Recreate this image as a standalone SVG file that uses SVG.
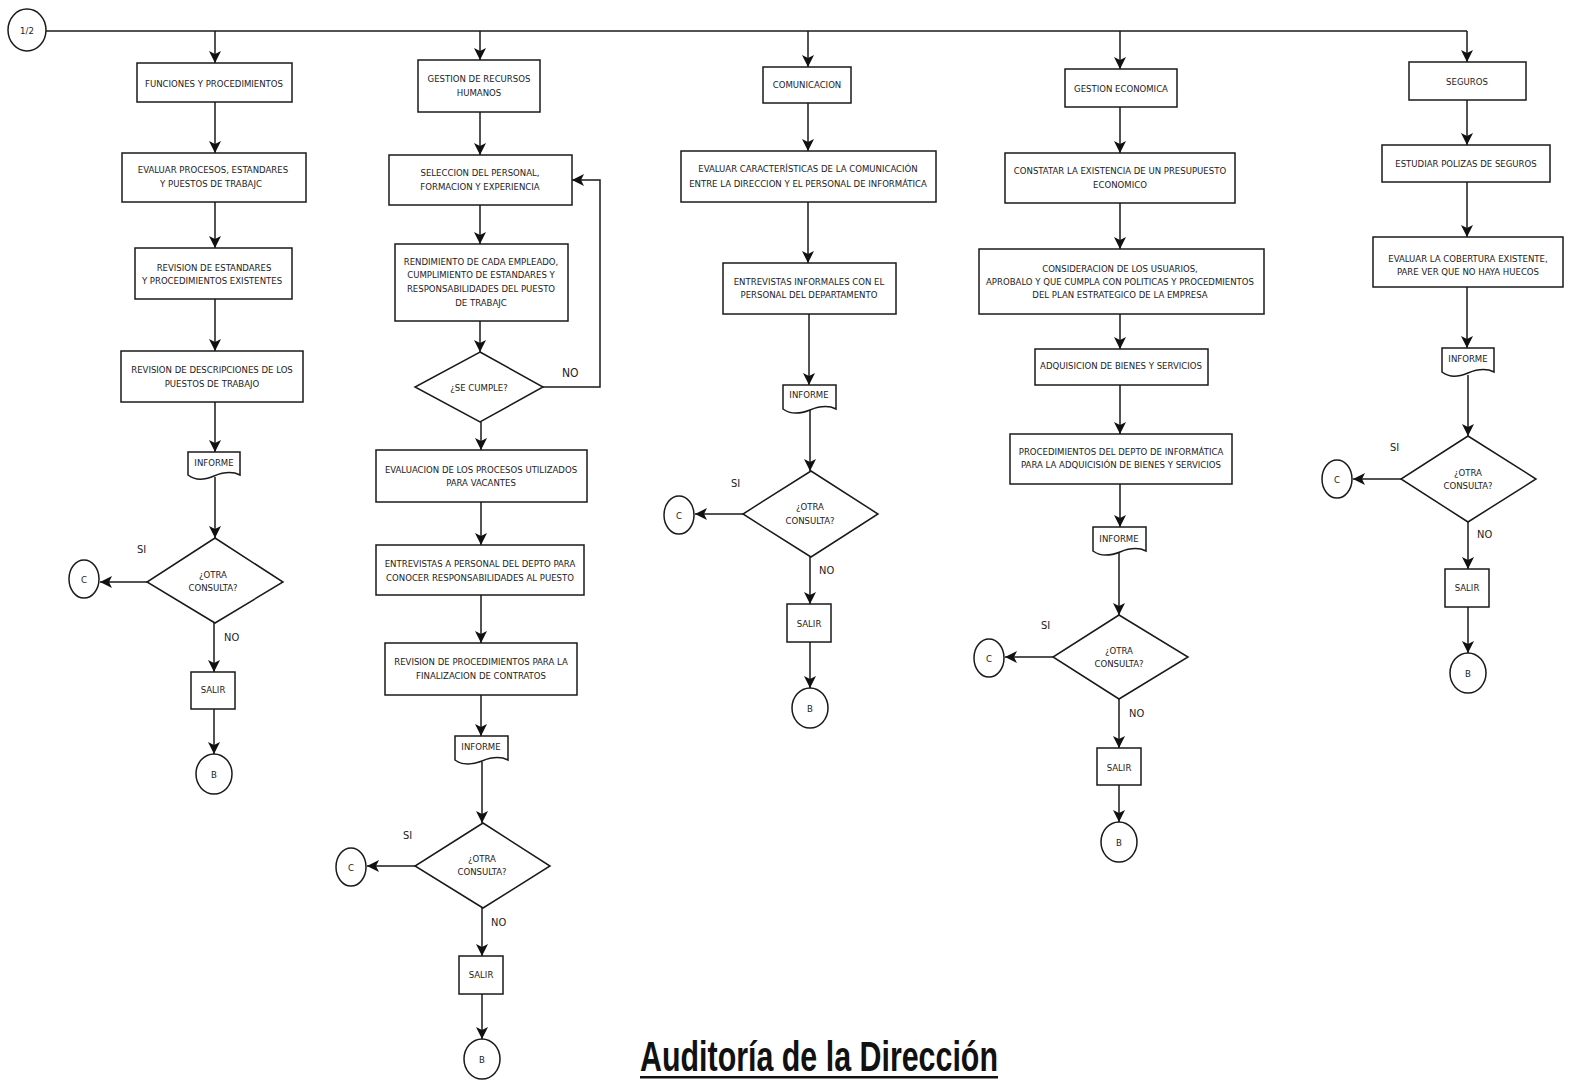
<svg xmlns="http://www.w3.org/2000/svg" width="1572" height="1085" viewBox="0 0 1572 1085">
<style>
.n{fill:#fff;stroke:#1a1a1a;stroke-width:1.5}
.c{fill:none;stroke:#1a1a1a;stroke-width:1.5}
.t{font-family:"Liberation Sans Narrow","DejaVu Sans Condensed",sans-serif;font-size:9.5px;text-anchor:middle;fill:#222}
.l{font-family:"Liberation Sans Narrow","DejaVu Sans Condensed",sans-serif;font-size:11px;fill:#222}
.title{font-family:"Liberation Sans",sans-serif;font-size:42px;font-weight:bold;fill:#111}
</style>
<defs>
<marker id="ah" markerUnits="userSpaceOnUse" markerWidth="14" markerHeight="12" refX="12" refY="6" orient="auto">
<path d="M0,0 L12,6 L0,12 L3,6 z" fill="#111"/>
</marker>
</defs>
<rect width="1572" height="1085" fill="#fff"/>

<g id="connectors">
<path class="c" d="M46,31 H1467"/>
<!-- col1 -->
<path class="c" marker-end="url(#ah)" d="M215,31 V63"/>
<path class="c" marker-end="url(#ah)" d="M215,102 V153"/>
<path class="c" marker-end="url(#ah)" d="M215,202 V248"/>
<path class="c" marker-end="url(#ah)" d="M215,299 V351"/>
<path class="c" marker-end="url(#ah)" d="M215,402 V452"/>
<path class="c" marker-end="url(#ah)" d="M215,477 V538"/>
<path class="c" marker-end="url(#ah)" d="M147,582 H100"/>
<path class="c" marker-end="url(#ah)" d="M214,623 V672"/>
<path class="c" marker-end="url(#ah)" d="M214,709 V754"/>
<!-- col2 -->
<path class="c" marker-end="url(#ah)" d="M480,31 V60"/>
<path class="c" marker-end="url(#ah)" d="M480,112 V155"/>
<path class="c" marker-end="url(#ah)" d="M480,205 V244"/>
<path class="c" marker-end="url(#ah)" d="M480,321 V352"/>
<path class="c" marker-end="url(#ah)" d="M543,387 H600 V180 H572"/>
<path class="c" marker-end="url(#ah)" d="M481,422 V450"/>
<path class="c" marker-end="url(#ah)" d="M481,502 V545"/>
<path class="c" marker-end="url(#ah)" d="M481,595 V643"/>
<path class="c" marker-end="url(#ah)" d="M481,695 V736"/>
<path class="c" marker-end="url(#ah)" d="M482,762 V823"/>
<path class="c" marker-end="url(#ah)" d="M415,866 H367"/>
<path class="c" marker-end="url(#ah)" d="M482,908 V956"/>
<path class="c" marker-end="url(#ah)" d="M482,994 V1039"/>
<!-- col3 -->
<path class="c" marker-end="url(#ah)" d="M808,31 V67"/>
<path class="c" marker-end="url(#ah)" d="M808,103 V151"/>
<path class="c" marker-end="url(#ah)" d="M808,202 V263"/>
<path class="c" marker-end="url(#ah)" d="M809,314 V385"/>
<path class="c" marker-end="url(#ah)" d="M810,410 V471"/>
<path class="c" marker-end="url(#ah)" d="M743,514 H695"/>
<path class="c" marker-end="url(#ah)" d="M810,557 V604"/>
<path class="c" marker-end="url(#ah)" d="M810,642 V688"/>
<!-- col4 -->
<path class="c" marker-end="url(#ah)" d="M1120,31 V69"/>
<path class="c" marker-end="url(#ah)" d="M1120,107 V153"/>
<path class="c" marker-end="url(#ah)" d="M1120,203 V249"/>
<path class="c" marker-end="url(#ah)" d="M1120,314 V349"/>
<path class="c" marker-end="url(#ah)" d="M1120,385 V434"/>
<path class="c" marker-end="url(#ah)" d="M1120,484 V527"/>
<path class="c" marker-end="url(#ah)" d="M1119,553 V615"/>
<path class="c" marker-end="url(#ah)" d="M1053,657 H1005"/>
<path class="c" marker-end="url(#ah)" d="M1119,699 V748"/>
<path class="c" marker-end="url(#ah)" d="M1119,785 V822"/>
<!-- col5 -->
<path class="c" marker-end="url(#ah)" d="M1467,31 V62"/>
<path class="c" marker-end="url(#ah)" d="M1467,100 V145"/>
<path class="c" marker-end="url(#ah)" d="M1467,182 V237"/>
<path class="c" marker-end="url(#ah)" d="M1467,287 V348"/>
<path class="c" marker-end="url(#ah)" d="M1468,375 V436"/>
<path class="c" marker-end="url(#ah)" d="M1401,479 H1353"/>
<path class="c" marker-end="url(#ah)" d="M1468,522 V569"/>
<path class="c" marker-end="url(#ah)" d="M1468,607 V653"/>
</g>

<g id="start"><ellipse class="n" cx="27" cy="30" rx="19" ry="21"/><text class="t" x="27" y="34">1/2</text></g>

<!-- Column 1 -->
<g id="c1-n1"><rect class="n" x="137" y="63" width="155" height="39"/><text class="t" x="214" y="87">FUNCIONES Y PROCEDIMIENTOS</text></g>
<g id="c1-n2"><rect class="n" x="122" y="153" width="184" height="49"/><text class="t" x="213" y="173">EVALUAR PROCESOS, ESTANDARES</text><text class="t" x="211" y="187">Y PUESTOS DE TRABAJC</text></g>
<g id="c1-n3"><rect class="n" x="135" y="248" width="157" height="51"/><text class="t" x="214" y="271">REVISION DE ESTANDARES</text><text class="t" x="212" y="284">Y PROCEDIMIENTOS EXISTENTES</text></g>
<g id="c1-n4"><rect class="n" x="121" y="351" width="182" height="51"/><text class="t" x="212" y="373">REVISION DE DESCRIPCIONES DE LOS</text><text class="t" x="212" y="387">PUESTOS DE TRABAJO</text></g>
<g id="c1-inf"><path class="n" d="M188,452 H240 V475 C232,471 224,472 214,476 S196,481 188,475 Z"/><text class="t" x="214" y="466">INFORME</text></g>
<g id="c1-dec"><path class="n" d="M215,538 L283,582 L215,623 L147,582 Z"/><text class="t" x="213" y="578">¿OTRA</text><text class="t" x="213" y="591">CONSULTA?</text></g>
<text class="l" x="137" y="553">SI</text>
<text class="l" x="224" y="641">NO</text>
<g id="c1-c"><ellipse class="n" cx="84" cy="579" rx="15" ry="19"/><text class="t" x="84" y="583">C</text></g>
<g id="c1-salir"><rect class="n" x="191" y="672" width="44" height="37"/><text class="t" x="213" y="693">SALIR</text></g>
<g id="c1-b"><ellipse class="n" cx="214" cy="774" rx="18" ry="20"/><text class="t" x="214" y="778">B</text></g>

<!-- Column 2 -->
<g id="c2-n1"><rect class="n" x="418" y="60" width="122" height="52"/><text class="t" x="479" y="82">GESTION DE RECURSOS</text><text class="t" x="479" y="96">HUMANOS</text></g>
<g id="c2-n2"><rect class="n" x="389" y="155" width="183" height="50"/><text class="t" x="480" y="176">SELECCION DEL PERSONAL,</text><text class="t" x="480" y="190">FORMACION Y EXPERIENCIA</text></g>
<g id="c2-n3"><rect class="n" x="395" y="244" width="173" height="77"/><text class="t" x="481" y="265">RENDIMIENTO DE CADA EMPLEADO,</text><text class="t" x="481" y="278">CUMPLIMIENTO DE ESTANDARES Y</text><text class="t" x="481" y="292">RESPONSABILIDADES DEL PUESTO</text><text class="t" x="481" y="306">DE TRABAJC</text></g>
<g id="c2-dec1"><path class="n" d="M480,352 L543,387 L480,422 L415,387 Z"/><text class="t" x="479" y="391">¿SE CUMPLE?</text></g>
<text class="l" x="562" y="377" style="font-size:12px">NO</text>
<g id="c2-n4"><rect class="n" x="376" y="450" width="211" height="52"/><text class="t" x="481" y="473">EVALUACION DE LOS PROCESOS UTILIZADOS</text><text class="t" x="481" y="486">PARA VACANTES</text></g>
<g id="c2-n5"><rect class="n" x="376" y="545" width="208" height="50"/><text class="t" x="480" y="567">ENTREVISTAS A PERSONAL DEL DEPTO PARA</text><text class="t" x="480" y="581">CONOCER RESPONSABILIDADES AL PUESTO</text></g>
<g id="c2-n6"><rect class="n" x="385" y="643" width="192" height="52"/><text class="t" x="481" y="665">REVISION DE PROCEDIMIENTOS PARA LA</text><text class="t" x="481" y="679">FINALIZACION DE CONTRATOS</text></g>
<g id="c2-inf"><path class="n" d="M455,736 H508 V760 C500,756 492,757 482,761 S463,766 455,760 Z"/><text class="t" x="481" y="750">INFORME</text></g>
<g id="c2-dec2"><path class="n" d="M483,823 L550,866 L483,908 L415,866 Z"/><text class="t" x="482" y="862">¿OTRA</text><text class="t" x="482" y="875">CONSULTA?</text></g>
<text class="l" x="403" y="839">SI</text>
<text class="l" x="491" y="926">NO</text>
<g id="c2-c"><ellipse class="n" cx="351" cy="867" rx="15" ry="19"/><text class="t" x="351" y="871">C</text></g>
<g id="c2-salir"><rect class="n" x="459" y="956" width="44" height="38"/><text class="t" x="481" y="978">SALIR</text></g>
<g id="c2-b"><ellipse class="n" cx="482" cy="1059" rx="18" ry="20"/><text class="t" x="482" y="1063">B</text></g>

<!-- Column 3 -->
<g id="c3-n1"><rect class="n" x="763" y="67" width="88" height="36"/><text class="t" x="807" y="88">COMUNICACION</text></g>
<g id="c3-n2"><rect class="n" x="681" y="151" width="255" height="51"/><text class="t" x="808" y="172">EVALUAR CARACTERÍSTICAS DE LA COMUNICACIÓN</text><text class="t" x="808" y="187">ENTRE LA DIRECCION Y EL PERSONAL DE INFORMÁTICA</text></g>
<g id="c3-n3"><rect class="n" x="723" y="263" width="173" height="51"/><text class="t" x="809" y="285">ENTREVISTAS INFORMALES CON EL</text><text class="t" x="809" y="298">PERSONAL DEL DEPARTAMENTO</text></g>
<g id="c3-inf"><path class="n" d="M783,385 H836 V409 C828,405 820,406 810,410 S791,415 783,409 Z"/><text class="t" x="809" y="398">INFORME</text></g>
<g id="c3-dec"><path class="n" d="M811,471 L878,514 L811,557 L743,514 Z"/><text class="t" x="810" y="510">¿OTRA</text><text class="t" x="810" y="524">CONSULTA?</text></g>
<text class="l" x="731" y="487">SI</text>
<text class="l" x="819" y="574">NO</text>
<g id="c3-c"><ellipse class="n" cx="679" cy="515" rx="15" ry="19"/><text class="t" x="679" y="519">C</text></g>
<g id="c3-salir"><rect class="n" x="787" y="604" width="44" height="38"/><text class="t" x="809" y="627">SALIR</text></g>
<g id="c3-b"><ellipse class="n" cx="810" cy="708" rx="18" ry="20"/><text class="t" x="810" y="712">B</text></g>

<!-- Column 4 -->
<g id="c4-n1"><rect class="n" x="1065" y="69" width="112" height="38"/><text class="t" x="1121" y="92">GESTION ECONOMICA</text></g>
<g id="c4-n2"><rect class="n" x="1005" y="153" width="230" height="50"/><text class="t" x="1120" y="174">CONSTATAR LA EXISTENCIA DE UN PRESUPUESTO</text><text class="t" x="1120" y="188">ECONOMICO</text></g>
<g id="c4-n3"><rect class="n" x="979" y="249" width="285" height="65"/><text class="t" x="1120" y="272">CONSIDERACION DE LOS USUARIOS,</text><text class="t" x="1120" y="285">APROBALO Y QUE CUMPLA CON POLITICAS Y PROCEDMIENTOS</text><text class="t" x="1120" y="298">DEL PLAN ESTRATEGICO DE LA EMPRESA</text></g>
<g id="c4-n4"><rect class="n" x="1035" y="349" width="173" height="36"/><text class="t" x="1121" y="369">ADQUISICION DE BIENES Y SERVICIOS</text></g>
<g id="c4-n5"><rect class="n" x="1010" y="434" width="222" height="50"/><text class="t" x="1121" y="455">PROCEDIMIENTOS DEL DEPTO DE INFORMÁTICA</text><text class="t" x="1121" y="468">PARA LA ADQUICISIÓN DE BIENES Y SERVICIOS</text></g>
<g id="c4-inf"><path class="n" d="M1093,527 H1146 V551 C1138,547 1130,548 1120,552 S1101,557 1093,551 Z"/><text class="t" x="1119" y="542">INFORME</text></g>
<g id="c4-dec"><path class="n" d="M1119,615 L1188,657 L1119,699 L1053,657 Z"/><text class="t" x="1119" y="654">¿OTRA</text><text class="t" x="1119" y="667">CONSULTA?</text></g>
<text class="l" x="1041" y="629">SI</text>
<text class="l" x="1129" y="717">NO</text>
<g id="c4-c"><ellipse class="n" cx="989" cy="658" rx="15" ry="19"/><text class="t" x="989" y="662">C</text></g>
<g id="c4-salir"><rect class="n" x="1097" y="748" width="44" height="37"/><text class="t" x="1119" y="771">SALIR</text></g>
<g id="c4-b"><ellipse class="n" cx="1119" cy="842" rx="18" ry="20"/><text class="t" x="1119" y="846">B</text></g>

<!-- Column 5 -->
<g id="c5-n1"><rect class="n" x="1409" y="62" width="117" height="38"/><text class="t" x="1467" y="85">SEGUROS</text></g>
<g id="c5-n2"><rect class="n" x="1382" y="145" width="168" height="37"/><text class="t" x="1466" y="167">ESTUDIAR POLIZAS DE SEGUROS</text></g>
<g id="c5-n3"><rect class="n" x="1373" y="237" width="190" height="50"/><text class="t" x="1468" y="262">EVALUAR LA COBERTURA EXISTENTE,</text><text class="t" x="1468" y="275">PARE VER QUE NO HAYA HUECOS</text></g>
<g id="c5-inf"><path class="n" d="M1442,348 H1494 V372 C1486,368 1478,369 1468,373 S1450,378 1442,372 Z"/><text class="t" x="1468" y="362">INFORME</text></g>
<g id="c5-dec"><path class="n" d="M1468,436 L1536,479 L1468,522 L1401,479 Z"/><text class="t" x="1468" y="476">¿OTRA</text><text class="t" x="1468" y="489">CONSULTA?</text></g>
<text class="l" x="1390" y="451">SI</text>
<text class="l" x="1477" y="538">NO</text>
<g id="c5-c"><ellipse class="n" cx="1337" cy="479" rx="15" ry="19"/><text class="t" x="1337" y="483">C</text></g>
<g id="c5-salir"><rect class="n" x="1445" y="569" width="44" height="38"/><text class="t" x="1467" y="591">SALIR</text></g>
<g id="c5-b"><ellipse class="n" cx="1468" cy="673" rx="18" ry="20"/><text class="t" x="1468" y="677">B</text></g>

<g id="title"><text class="title" x="640" y="1071" textLength="358" lengthAdjust="spacingAndGlyphs">Auditoría de la Dirección</text><rect x="640" y="1076" width="358" height="2.5" fill="#111"/></g>
</svg>
